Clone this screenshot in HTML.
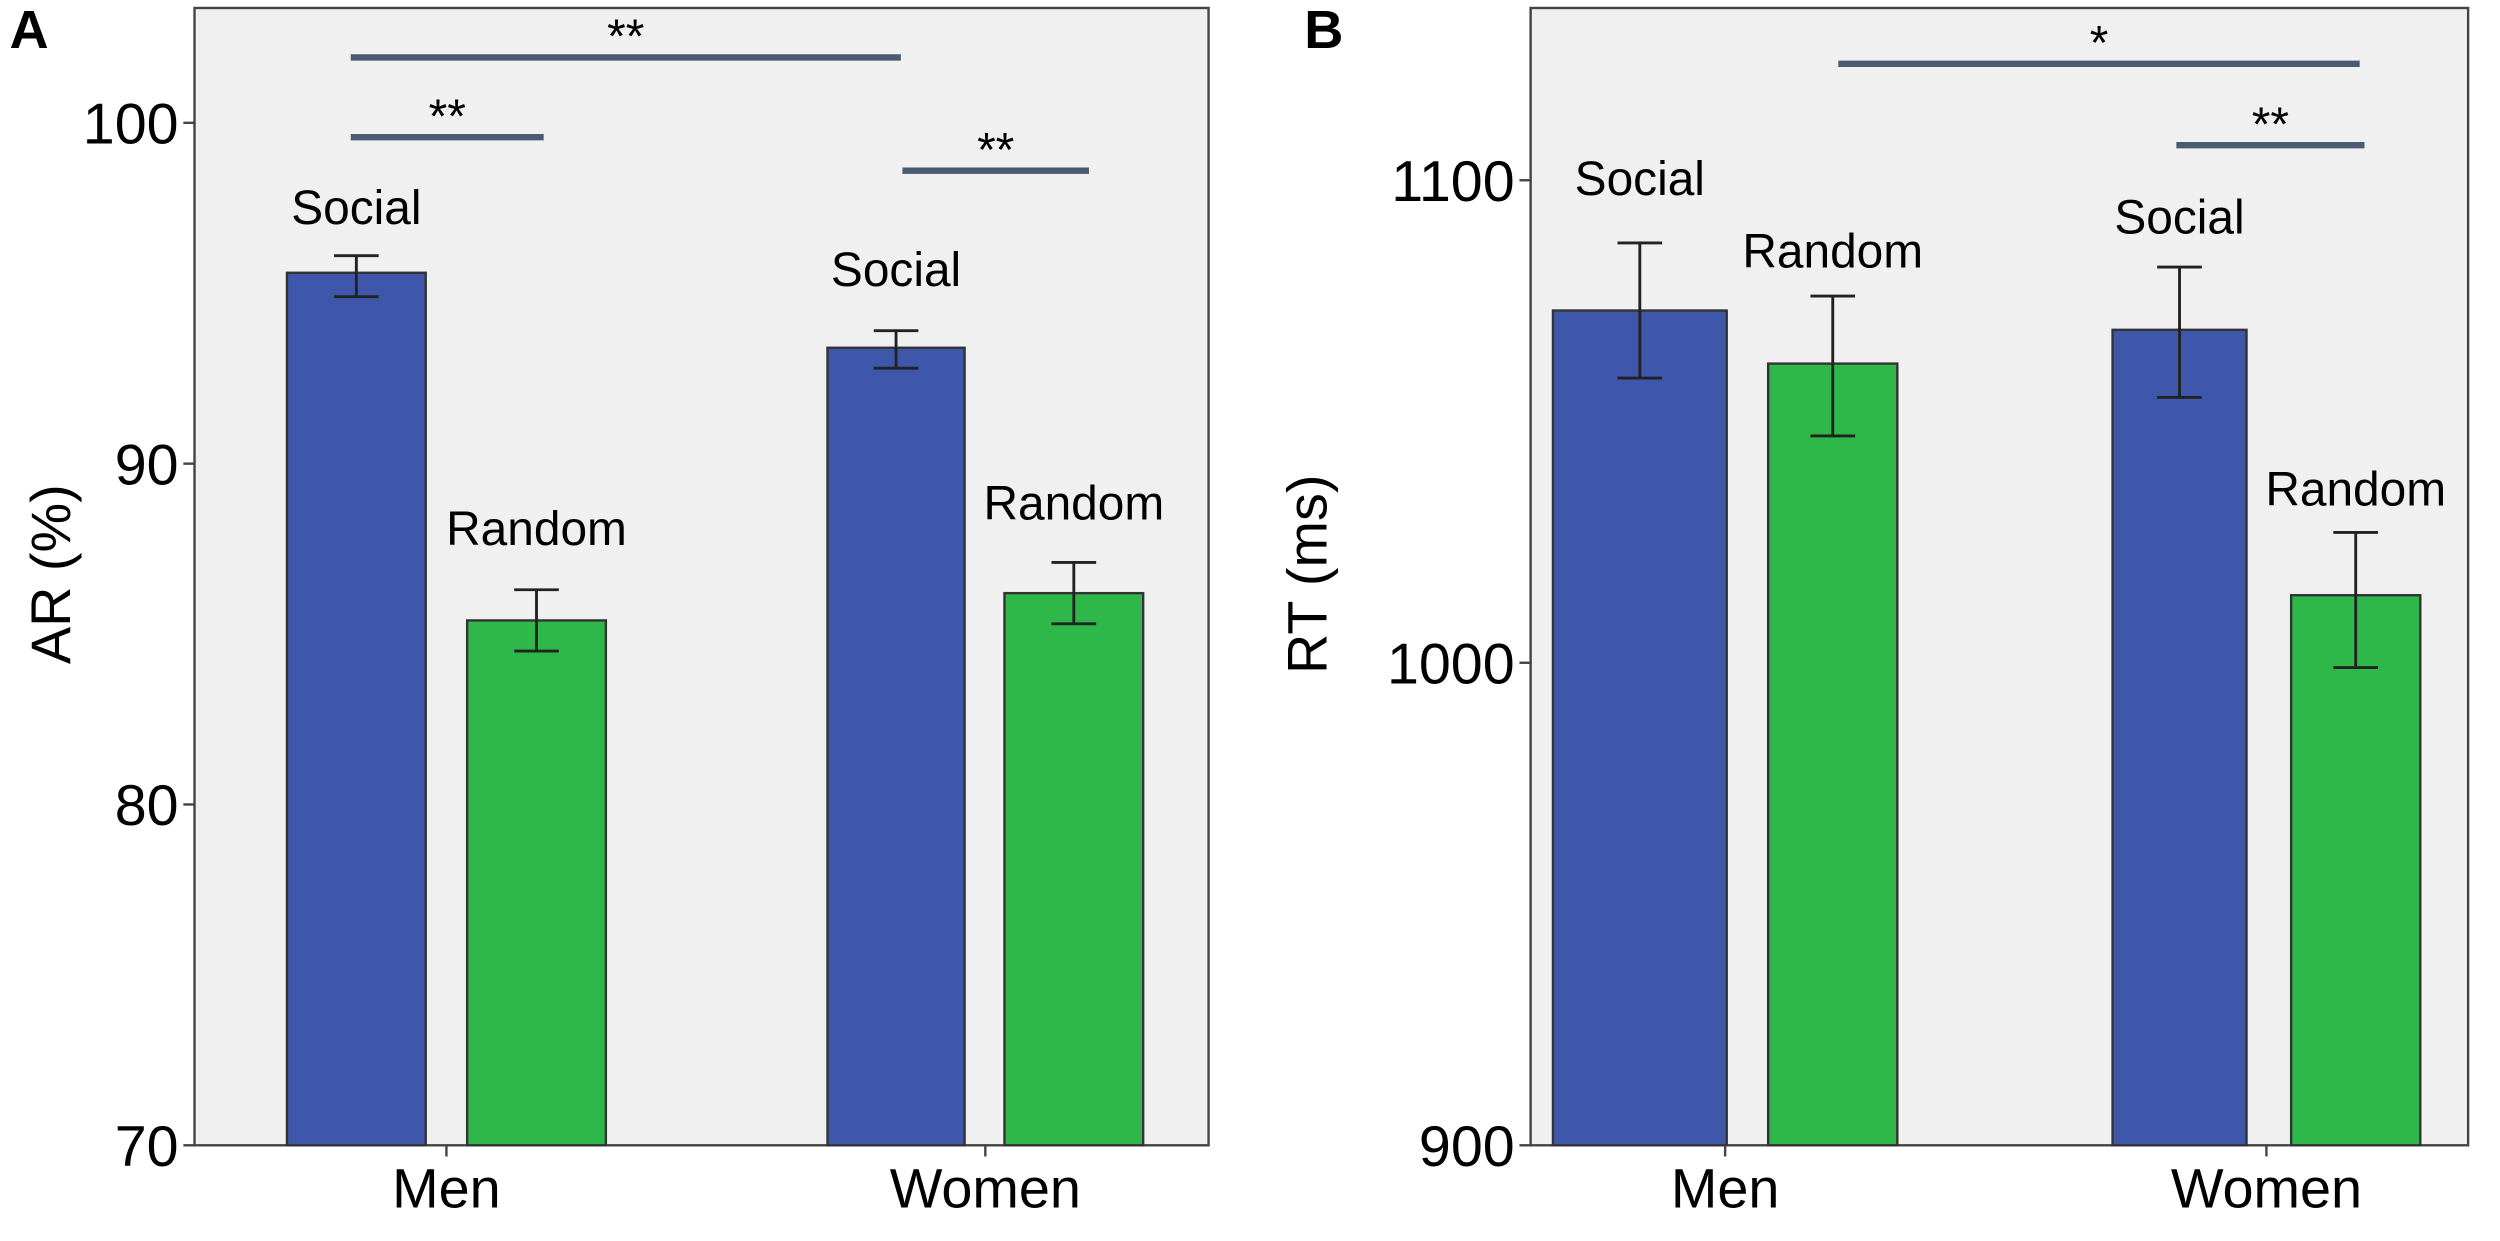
<!DOCTYPE html>
<html><head><meta charset="utf-8">
<style>
html,body{margin:0;padding:0;background:#fff;}
svg{display:block;}
text{font-family:"Liberation Sans",Arial,sans-serif;fill:#000;}
</style></head>
<body>
<svg id="chart" width="2500" height="1241" viewBox="0 0 1568 778" preserveAspectRatio="none" xmlns="http://www.w3.org/2000/svg"></svg>
<script>
// Panel A data
const groupsA = ["Men","Women"];
const socialA = [95.6, 93.4];
const socialErrA = [[94.9,96.1],[92.8,93.9]];
const randomA = [85.4, 86.2];
const randomErrA = [[84.5,86.3],[85.3,87.1]];
const ticksA = [70,80,90,100];
// Panel B data
const groupsB = ["Men","Women"];
const socialB = [1073, 1069];
const socialErrB = [[1059,1087],[1055,1082]];
const randomB = [1062, 1014];
const randomErrB = [[1047,1076],[999,1027]];
const ticksB = [900,1000,1100];

const NS="http://www.w3.org/2000/svg";
const svg=document.getElementById('chart');
function el(tag,attrs,parent,text){const e=document.createElementNS(NS,tag);for(const k in attrs)e.setAttribute(k,attrs[k]);if(text!==undefined)e.textContent=text;(parent||svg).appendChild(e);return e;}

function panel(cfg){
  const g=el('g',{});
  
  
  const y=v=>cfg.y0px+(v-cfg.v0)*(cfg.y1px-cfg.y0px)/(cfg.v1-cfg.v0);
  const bg=el('rect',{x:cfg.left,y:5,width:cfg.right-cfg.left,height:718-5,fill:'#f0f0f0',stroke:'#444','stroke-width':1.5},g);
  
  
  cfg.ticks.forEach(t=>{
    el('line',{x1:cfg.left-7,x2:cfg.left,y1:y(t),y2:y(t),stroke:'#444','stroke-width':1.5},g);
    const tl=el('text',{x:cfg.left-10,y:y(t)+13,'font-size':36,'text-anchor':'end'},g,String(t));
    
    
  });
  const yt=el('text',{x:0,y:0,'font-size':35,'text-anchor':'middle',transform:`translate(${cfg.titleX},360) rotate(-90)`},g,cfg.title);
  
  
  const pl=el('text',{x:cfg.letterX,y:30,'font-size':34,'font-weight':'bold'},g,cfg.letter);
  
  
  const series=[{vals:cfg.social,err:cfg.socialErr,col:'#3f57aa',xs:cfg.socialX,lab:'Social',labPos:cfg.socialLab},
                {vals:cfg.random,err:cfg.randomErr,col:'#2fb84a',xs:cfg.randomX,lab:'Random',labPos:cfg.randomLab}];
  series.forEach(s=>{
    s.vals.forEach((v,i)=>{
      const x0=s.xs[i][0],x1=s.xs[i][1],cx=(x0+x1)/2;
      const b=el('rect',{x:x0,y:y(v),width:x1-x0,height:718-y(v),fill:s.col,stroke:'#333','stroke-width':1.5},g);
      
      
      const e=s.err[i];
      const eg=el('g',{stroke:'#222','stroke-width':1.8},g);
      
      
      el('line',{x1:cx,x2:cx,y1:y(e[0]),y2:y(e[1])},eg);
      el('line',{x1:cx-14,x2:cx+14,y1:y(e[0]),y2:y(e[0])},eg);
      el('line',{x1:cx-14,x2:cx+14,y1:y(e[1]),y2:y(e[1])},eg);
      const lt=el('text',{x:cx,y:y(e[1])-s.labPos[i],'font-size':30,'text-anchor':'middle'},g,s.lab);
      
      
    });
  });
  cfg.groups.forEach((gname,i)=>{
    const cx=(cfg.socialX[i][0]+cfg.randomX[i][1])/2;
    el('line',{x1:cx,x2:cx,y1:718,y2:725,stroke:'#444','stroke-width':1.5},g);
    const xl=el('text',{x:cx,y:757,'font-size':35,'text-anchor':'middle'},g,gname);
    
    
  });
  cfg.sig.forEach(s=>{
    const sg=el('g',{},g);
    
    
    el('line',{x1:s[0],x2:s[1],y1:s[2],y2:s[2],stroke:'#4a5a70','stroke-width':4},sg);
    el('text',{x:(s[0]+s[1])/2,y:s[2]-3,'font-size':30,'text-anchor':'middle'},sg,s[3]);
  });
}

panel({name:'panel-a',letter:'A',letterX:6,left:122,right:758,v0:70,v1:100,y0px:718,y1px:77,
  ticks:ticksA,title:'AR (%)',titleX:44,groups:groupsA,
  social:socialA,socialErr:socialErrA,random:randomA,randomErr:randomErrA,
  socialX:[[180,267],[519,605]],randomX:[[293,380],[630,717]],
  socialLab:[20,28],randomLab:[28,27],
  sig:[[220,565,36,'**'],[220,341,86,'**'],[566,683,107,'**']]});
panel({name:'panel-b',letter:'B',letterX:818,left:960,right:1548,v0:900,v1:1100,y0px:718,y1px:113,
  ticks:ticksB,title:'RT (ms)',titleX:832,groups:groupsB,
  social:socialB,socialErr:socialErrB,random:randomB,randomErr:randomErrB,
  socialX:[[974,1083],[1325,1409]],randomX:[[1109,1190],[1437,1518]],
  socialLab:[30,21],randomLab:[18,17],
  sig:[[1153,1480,40,'*'],[1365,1483,91,'**']]});
</script>
</body></html>
